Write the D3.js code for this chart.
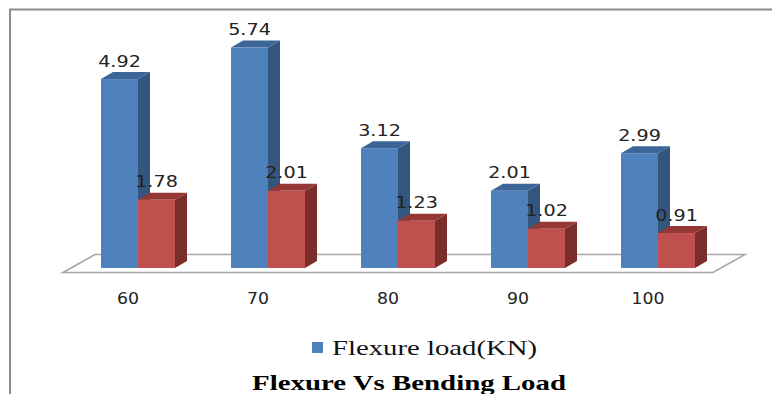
<!DOCTYPE html>
<html>
<head>
<meta charset="utf-8">
<script src="https://cdn.jsdelivr.net/npm/d3@7/dist/d3.min.js"></script>
<style>
  html, body { margin: 0; padding: 0; background: #fff; }
  svg { display: block; }
</style>
</head>
<body>
<svg id="chart" width="772" height="394"></svg>
<script>
// Chart data
const categories = ["60", "70", "80", "90", "100"];
const flexureLoad = [4.92, 5.74, 3.12, 2.01, 2.99];
const bendingLoad = [1.78, 2.01, 1.23, 1.02, 0.91];
const seriesNames = ["Flexure load(KN)", "Bending load"];
const chartTitle = "Flexure Vs Bending Load";

const svg = d3.select("#chart");
const W = 772, H = 394;

// 3D projection offsets
const depth = { dx: 12, dy: -7 };     // bar depth
const floorDepth = { dx: 32, dy: -18 };

const baseY = 268;                      // front bottom of the bars
const y = d3.scaleLinear().domain([0, 6]).range([baseY, baseY - 6 * 38.4]);

// group slots and series within a group
const xGroup = d3.scaleBand().domain(categories).range([66, 716]).padding(0);
const xSeries = d3.scaleBand().domain([0, 1]).range([0, 74]).padding(0);
const groupOffset = 35;

const palette = [
  { front: "#4F81BD", side: "#33567F", top: "#3C6598" },
  { front: "#C0504D", side: "#7A2E2C", top: "#933835" }
];

// outer frame (left and top edges)
svg.append("path")
  .attr("d", `M10,${H} L10,9.5 L${W},9.5`)
  .attr("fill", "none")
  .attr("stroke", "#8C8C8C")
  .attr("stroke-width", 2);

// floor
const fl = 63, fr = 713, fy = 272.5;
svg.append("path")
  .attr("d", `M${fl},${fy} L${fr},${fy} L${fr + floorDepth.dx},${fy + floorDepth.dy} L${fl + floorDepth.dx},${fy + floorDepth.dy} Z`)
  .attr("fill", "#fff")
  .attr("stroke", "#A6A6A6")
  .attr("stroke-width", 1.6);

// bars
const data = categories.map((c, i) => ({ cat: c, vals: [flexureLoad[i], bendingLoad[i]] }));
const bars = svg.append("g");

data.forEach(d => {
  d.vals.forEach((v, s) => {
    const x0 = xGroup(d.cat) + groupOffset + xSeries(s);
    const x1 = x0 + xSeries.bandwidth();
    const t = y(v), b = y(0);
    const col = palette[s];
    const g = bars.append("g");
    // side face
    g.append("path")
      .attr("d", `M${x1},${t} L${x1 + depth.dx},${t + depth.dy} L${x1 + depth.dx},${b + depth.dy} L${x1},${b} Z`)
      .attr("fill", col.side);
    // top face
    g.append("path")
      .attr("d", `M${x0},${t} L${x0 + depth.dx},${t + depth.dy} L${x1 + depth.dx},${t + depth.dy} L${x1},${t} Z`)
      .attr("fill", col.top);
    // front face
    g.append("rect")
      .attr("x", x0).attr("y", t)
      .attr("width", x1 - x0).attr("height", b - t)
      .attr("fill", col.front);
    // value label
    g.append("text")
      .attr("transform", `translate(${(x0 + x1) / 2},${t - 12.5}) scale(1.2,1)`)
      .attr("text-anchor", "middle")
      .attr("font-family", "DejaVu Sans, Verdana, sans-serif")
      .attr("font-size", 16)
      .attr("fill", "#222")
      .text(v.toFixed(2));
  });
});

// category labels
svg.append("g").selectAll("text")
  .data(categories)
  .join("text")
  .attr("transform", c => `translate(${xGroup(c) + groupOffset + 27},304) scale(1.08,1)`)
  .attr("text-anchor", "middle")
  .attr("font-family", "DejaVu Sans, Verdana, sans-serif")
  .attr("font-size", 16)
  .attr("fill", "#222")
  .text(c => c);

// legend
const leg = svg.append("g");
leg.append("rect")
  .attr("x", 312).attr("y", 342)
  .attr("width", 11).attr("height", 11)
  .attr("fill", palette[0].front);
leg.append("text")
  .attr("x", 332).attr("y", 355)
  .attr("font-family", "Liberation Serif, Times New Roman, serif")
  .attr("font-size", 21)
  .attr("fill", "#111")
  .attr("textLength", 205)
  .attr("lengthAdjust", "spacingAndGlyphs")
  .text(seriesNames[0]);

// title
svg.append("text")
  .attr("x", 252).attr("y", 390)
  .attr("font-family", "Liberation Serif, Times New Roman, serif")
  .attr("font-size", 22)
  .attr("font-weight", "bold")
  .attr("fill", "#000")
  .attr("textLength", 314)
  .attr("lengthAdjust", "spacingAndGlyphs")
  .text(chartTitle);
</script>
</body>
</html>
